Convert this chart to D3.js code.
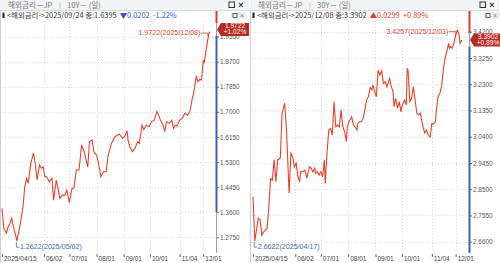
<html>
<head>
<script src="https://d3js.org/d3.v7.min.js"></script>
<style>
  body { margin: 0; background: #fff; }
  text { font-family: "Liberation Sans", Arial, sans-serif; }
  .kr { font-family: "Noto Sans CJK KR", "Noto Sans", sans-serif; }
</style>
</head>
<body>
<svg id="chart" width="500" height="263"></svg>
<script>

//JP 10Y daily close
var dates10 = ["04/15","04/17","04/20","04/22","04/24","04/26","04/28","05/01","05/02","05/06",
  "05/09","05/11","05/13","05/15","05/18","05/21","05/23","05/25","05/28","05/30",
  "06/01","06/03","06/05","06/08","06/11","06/13","06/16","06/18","06/20","06/23",
  "06/26","06/28","07/01","07/04","07/06","07/09","07/12","07/15","07/18","07/20",
  "07/22","07/24","07/27","07/29","08/01","08/03","08/06","08/09","08/12","08/14",
  "08/18","08/22","08/27","08/31","09/03","09/05","09/06","09/08","09/11","09/14",
  "09/17","09/19","09/22","09/24","09/27","09/30","10/03","10/06","10/09","10/11",
  "10/13","10/16","10/18","10/20","10/23","10/26","10/28","10/30","11/01","11/04",
  "11/07","11/10","11/13","11/16","11/18","11/20","11/22","11/23","11/25","11/27",
  "11/29","12/01","12/02","12/04","12/06","12/08"];
var vals10 = [1.373,1.306,1.289,1.311,1.322,1.339,1.311,1.277,1.2622,1.322,
  1.379,1.446,1.475,1.458,1.526,1.560,1.526,1.469,1.520,1.509,
  1.514,1.480,1.480,1.463,1.475,1.401,1.469,1.441,1.407,1.418,
  1.418,1.435,1.392,1.441,1.441,1.503,1.503,1.588,1.565,1.537,
  1.514,1.599,1.605,1.565,1.554,1.531,1.480,1.497,1.497,1.548,
  1.593,1.616,1.625,1.610,1.622,1.636,1.605,1.582,1.565,1.577,
  1.599,1.593,1.655,1.6395,1.655,1.650,1.667,1.672,1.701,1.689,
  1.672,1.655,1.633,1.667,1.661,1.672,1.644,1.655,1.652,1.672,
  1.678,1.695,1.689,1.704,1.740,1.763,1.802,1.819,1.802,1.810,
  1.808,1.876,1.865,1.904,1.943,1.9722];

//JP 30Y daily close
var dates30 = ["04/15","04/17","04/21","04/23","04/25","04/27","04/29","05/01","05/03","05/05",
  "05/07","05/09","05/11","05/13","05/16","05/18","05/19","05/21","05/23","05/26",
  "05/28","05/30","06/01","06/03","06/05","06/07","06/08","06/10","06/13","06/15",
  "06/18","06/20","06/22","06/24","06/25","06/27","06/29","07/01","07/03","07/05",
  "07/06","07/08","07/10","07/12","07/14","07/16","07/18","07/20","07/22","07/24",
  "07/26","07/28","07/30","07/31","08/02","08/05","08/07","08/09","08/11","08/12",
  "08/14","08/16","08/18","08/20","08/22","08/24","08/26","08/28","08/29","09/02",
  "09/04","09/06","09/08","09/10","09/12","09/14","09/17","09/19","09/21","09/22",
  "09/24","09/26","09/28","09/30","10/01","10/04","10/06","10/07","10/08","10/10",
  "10/12","10/14","10/16","10/18","10/20","10/22","10/23","10/25","10/27","10/29",
  "10/31","11/02","11/04","11/06","11/08","11/09","11/11","11/13","11/15","11/17",
  "11/19","11/21","11/23","11/24","11/25","11/27","11/29","12/01","12/03","12/05",
  "12/06","12/08"];
var vals30 = [2.823,2.6622,2.745,2.739,2.684,2.696,2.702,2.708,2.787,2.889,
  2.883,2.956,2.877,2.956,2.962,3.125,3.137,3.161,3.064,2.835,
  2.980,2.968,2.931,2.944,2.895,2.877,2.913,2.913,2.919,2.889,
  2.931,2.926,2.913,2.926,2.908,2.913,2.901,2.913,2.895,2.956,
  2.871,2.980,3.064,3.070,3.046,3.167,3.076,3.082,3.076,3.137,
  3.076,3.058,3.022,3.076,3.094,3.112,3.082,3.076,3.064,3.088,
  3.094,3.094,3.107,3.137,3.173,3.185,3.218,3.209,3.227,3.185,
  3.281,3.263,3.279,3.233,3.239,3.221,3.251,3.221,3.203,3.149,
  3.179,3.143,3.167,3.130,3.149,3.173,3.155,3.288,3.281,3.167,
  3.179,3.221,3.173,3.125,3.119,3.125,3.107,3.076,3.054,3.064,
  3.046,3.038,3.088,3.086,3.094,3.130,3.185,3.195,3.221,3.281,
  3.324,3.348,3.378,3.360,3.366,3.360,3.378,3.408,3.4257,3.408,
  3.378,3.3902];

//axis ticks
var dateTicks = ["04/15","06/02","07/01","08/01","09/01","10/01","11/04","12/01"];
var ticks10 = [1.2750,1.3600,1.4450,1.5300,1.6150,1.7000,1.7850,1.8700,1.9550];
var ticks30 = [2.6600,2.7550,2.8500,2.9450,3.0400,3.1350,3.2300,3.3250,3.4200];

//header texts
var titles = ["10Y－ (일)", "30Y－ (일)"];
var infoTexts = ["<해외금리->2025/09/24 종:1.6395", "<해외금리->2025/12/08 종:3.3902"];
var infoChanges = ["▼0.0202  -1.22%", "▲0.0299  +0.89%"];
var lastChanges = ["+1.02%", "+0.89%"];

var parseDate = function(s) { return d3.timeParse("%Y/%m/%d")("2025/" + s); }
var fmtDate = d3.timeFormat("%Y/%m/%d");

var svg = d3.select("#chart");
svg.append("rect").attr("width", 500).attr("height", 263).attr("fill", "#fff");

var lineColor = "#e8412c";
var boxColor = "#b82a20";
var blueColor = "#3e62ad";

var drawPanel = function(cfg)
{
    var g = svg.append("g").attr("transform", "translate(" + cfg.left + ",0)");
    var data = cfg.dates.map(function(d, i) { return {date: parseDate(d), value: cfg.values[i]}; });

    var x = d3.scaleTime()
        .domain([parseDate("04/15"), parseDate("12/08")])
        .range(cfg.xRange);
    var y = d3.scaleLinear()
        .domain([cfg.ticks[0], cfg.ticks[cfg.ticks.length - 1]])
        .range(cfg.yRange);

    //header row
    g.append("rect").attr("x", 0).attr("y", 0).attr("width", 249).attr("height", 10)
        .attr("fill", "#f3f4f6");
    g.append("line").attr("x1", 0).attr("x2", 249).attr("y1", 10.5).attr("y2", 10.5)
        .attr("stroke", "#d5d8dd");
    g.append("text").attr("class", "kr").attr("x", 8).attr("y", 5.5)
        .attr("dominant-baseline", "middle").attr("font-size", 7.6).attr("fill", "#777")
        .text("해외금리－JP");
    g.append("text").attr("x", 59).attr("y", 5.5).attr("dominant-baseline", "middle")
        .attr("font-size", 7).attr("fill", "#bbb").text("|");
    g.append("text").attr("class", "kr").attr("x", 67).attr("y", 5.5)
        .attr("dominant-baseline", "middle").attr("font-size", 7.6).attr("fill", "#777")
        .text(cfg.title);
    g.append("rect").attr("x", cfg.iconX).attr("y", 2).attr("width", 5.5).attr("height", 5.5)
        .attr("fill", "none").attr("stroke", "#333").attr("stroke-width", 1);
    g.append("text").attr("x", cfg.iconX + 12).attr("y", 5.5).attr("text-anchor", "middle")
        .attr("dominant-baseline", "middle").attr("font-size", 9).attr("font-weight", "bold")
        .attr("fill", "#333").text("×");

    //info row
    g.append("rect").attr("x", 2.5).attr("y", 12.5).attr("width", 2).attr("height", 5.5).attr("fill", "#222");
    var info = g.append("text").attr("class", "kr").attr("x", 7).attr("y", 15.5)
        .attr("dominant-baseline", "middle").attr("font-size", 7.4).attr("fill", "#333");
    info.append("tspan").text(infoTexts[cfg.idx]);
    info.append("tspan").attr("dx", 3).attr("fill", cfg.chgColor).attr("xml:space", "preserve")
        .text(infoChanges[cfg.idx]);
    g.append("rect").attr("x", cfg.axisX + 15).attr("y", 12).attr("width", 16).attr("height", 7)
        .attr("fill", "#eceef1");
    g.append("rect").attr("x", cfg.axisX + 17).attr("y", 13.5).attr("width", 4).attr("height", 4)
        .attr("fill", "none").attr("stroke", "#444").attr("stroke-width", 0.8);
    g.append("text").attr("x", cfg.axisX + 26).attr("y", 15.8).attr("text-anchor", "middle")
        .attr("dominant-baseline", "middle").attr("font-size", 7).attr("fill", "#777").text("×");

    //panel border
    g.append("line").attr("x1", 0.5).attr("x2", 0.5).attr("y1", 11).attr("y2", 263)
        .attr("stroke", "#c9ced6");

    //grid
    g.selectAll(".hgrid").data(cfg.ticks).enter().append("line")
        .attr("x1", 2).attr("x2", cfg.axisX)
        .attr("y1", function(d) { return Math.round(y(d)) + 0.5; })
        .attr("y2", function(d) { return Math.round(y(d)) + 0.5; })
        .attr("stroke", "#d9d9d9").attr("stroke-dasharray", "1,2");
    g.selectAll(".vgrid").data(dateTicks.slice(1)).enter().append("line")
        .attr("x1", function(d) { return Math.round(x(parseDate(d))) + 0.5; })
        .attr("x2", function(d) { return Math.round(x(parseDate(d))) + 0.5; })
        .attr("y1", 21).attr("y2", 252)
        .attr("stroke", "#d9d9d9").attr("stroke-dasharray", "1,2");

    //line
    var line = d3.line()
        .x(function(d) { return x(d.date); })
        .y(function(d) { return y(d.value); });
    g.append("path").datum(data).attr("d", line)
        .attr("fill", "none").attr("stroke", lineColor).attr("stroke-width", 1.1);

    //right axis
    var last = data[data.length - 1];
    var boxMid = y(last.value) + cfg.boxShift;
    var yAxis = d3.axisRight(y).tickValues(cfg.ticks).tickSize(3).tickFormat(d3.format(".4f"));
    var ag = g.append("g").attr("transform", "translate(" + cfg.axisX + ",0)").call(yAxis);
    ag.select(".domain").remove();
    ag.selectAll("line").attr("stroke", "#666");
    ag.selectAll("text").attr("x", 4).attr("font-size", 6.4).attr("fill", "#555")
        .attr("font-family", "Liberation Sans, Arial, sans-serif");
    g.append("line").attr("x1", cfg.axisX + 0.5).attr("x2", cfg.axisX + 0.5)
        .attr("y1", 11).attr("y2", 253).attr("stroke", "#9aa0a8").attr("stroke-width", 1);
    g.append("line").attr("x1", cfg.axisX + 0.5).attr("x2", cfg.axisX + 0.5)
        .attr("y1", 11).attr("y2", boxMid - 6.5).attr("stroke", "#e0392b").attr("stroke-width", 2);
    g.append("line").attr("x1", cfg.axisX + 0.5).attr("x2", cfg.axisX + 0.5)
        .attr("y1", boxMid + 6.5).attr("y2", cfg.blueEnd).attr("stroke", blueColor).attr("stroke-width", 2);

    //last value box
    var bx = cfg.axisX + 1;
    g.append("path")
        .attr("d", "M" + bx + "," + boxMid + "L" + (bx + 4) + "," + (boxMid - 6.5) + "H" + (bx + 32)
            + "V" + (boxMid + 6.5) + "H" + (bx + 4) + "Z")
        .attr("fill", boxColor);
    g.append("text").attr("x", bx + 18).attr("y", boxMid - 3).attr("text-anchor", "middle")
        .attr("dominant-baseline", "middle").attr("font-size", 6.6).attr("fill", "#fff")
        .text(last.value.toFixed(4));
    g.append("text").attr("x", bx + 18).attr("y", boxMid + 3.2).attr("text-anchor", "middle")
        .attr("dominant-baseline", "middle").attr("font-size", 6.6).attr("fill", "#fff")
        .text(lastChanges[cfg.idx]);

    //date axis
    var xAxis = d3.axisBottom(x).tickValues(dateTicks.map(parseDate)).tickSize(3)
        .tickFormat(function(d, i) { return i == 0 ? fmtDate(d) : d3.timeFormat("%m/%d")(d); });
    var xg = g.append("g").attr("transform", "translate(0,254)").call(xAxis);
    xg.select(".domain").remove();
    xg.selectAll("line").attr("stroke", "#666");
    xg.selectAll("text").attr("text-anchor", "start").attr("x", 1.5).attr("y", 2)
        .attr("dy", "0.71em").attr("font-size", 6.5).attr("fill", "#444")
        .attr("font-family", "Liberation Sans, Arial, sans-serif");

    //max marker
    var maxPt = data[d3.maxIndex(data, function(d) { return d.value; })];
    var mx = x(maxPt.date), my = y(maxPt.value);
    g.append("text").attr("x", mx - 9).attr("y", my + 1.5).attr("text-anchor", "end")
        .attr("dominant-baseline", "middle").attr("font-size", 7.1).attr("fill", "#e0452f")
        .text(maxPt.value.toFixed(4) + "(" + fmtDate(maxPt.date) + ")");
    g.append("path").attr("d", "M" + (mx - 8.5) + "," + (my + 1.5) + "H" + (mx - 1.5) + "V" + (my + 5))
        .attr("fill", "none").attr("stroke", "#e0452f").attr("stroke-width", 0.8);

    //min marker
    var minPt = data[d3.minIndex(data, function(d) { return d.value; })];
    var nx = x(minPt.date), ny = y(minPt.value);
    g.append("path").attr("d", "M" + (nx - 0.5) + "," + (ny + 1) + "V" + (ny + 6) + "H" + (nx + 2.5))
        .attr("fill", "none").attr("stroke", "#4a6aa5").attr("stroke-width", 0.8);
    g.append("text").attr("x", nx + 3).attr("y", ny + 6).attr("dominant-baseline", "middle")
        .attr("font-size", 7.1).attr("fill", "#4a6aa5")
        .text(minPt.value.toFixed(4) + "(" + fmtDate(minPt.date) + ")");
}

drawPanel({idx: 0, left: 0, dates: dates10, values: vals10, ticks: ticks10, title: titles[0],
    xRange: [2, 209.4], yRange: [237.3, 36.6], axisX: 216, iconX: 229, boxShift: -2,
    blueEnd: 212, chgColor: "#2a56c6"});
drawPanel({idx: 1, left: 250, dates: dates30, values: vals30, ticks: ticks30, title: titles[1],
    xRange: [3, 211.8], yRange: [241.7, 31.7], axisX: 219, iconX: 230, boxShift: 0,
    blueEnd: 253, chgColor: "#e0392b"});

</script>
</body>
</html>
